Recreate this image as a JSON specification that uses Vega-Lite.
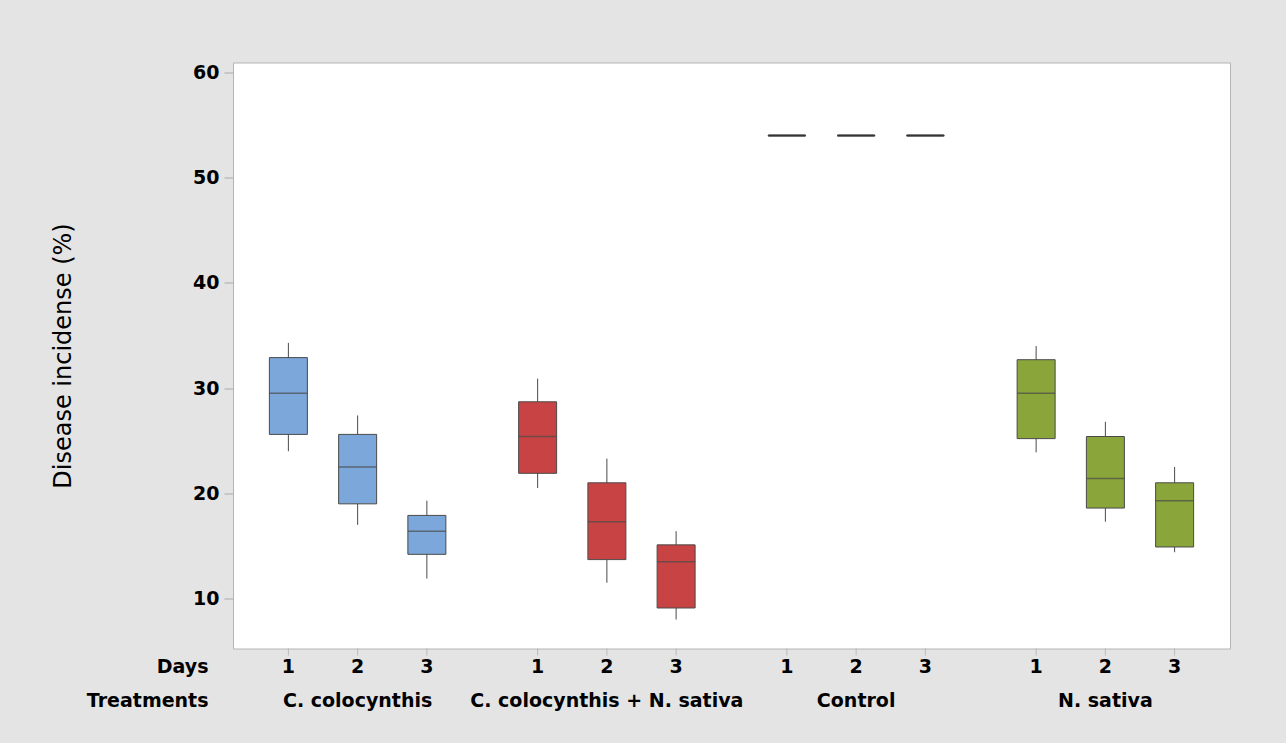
{
  "$schema": "https://vega.github.io/schema/vega-lite/v6.json",
  "background": "#e4e4e4",
  "padding": {"left": 50, "top": 61.5, "right": 56.5, "bottom": 26},
  "bounds": "flush",
  "spacing": 1,
  "config": {"font": "DejaVu Sans", "axis": {"grid": false}},
  "datasets": {
    "boxes": [
      {"treatment": "C. colocynthis", "day": 1, "min": 24.0, "q1": 25.6, "median": 29.5, "q3": 32.9, "max": 34.3},
      {"treatment": "C. colocynthis", "day": 2, "min": 17.0, "q1": 19.0, "median": 22.5, "q3": 25.6, "max": 27.4},
      {"treatment": "C. colocynthis", "day": 3, "min": 11.9, "q1": 14.2, "median": 16.4, "q3": 17.9, "max": 19.3},
      {"treatment": "C. colocynthis + N. sativa", "day": 1, "min": 20.5, "q1": 21.9, "median": 25.4, "q3": 28.7, "max": 30.9},
      {"treatment": "C. colocynthis + N. sativa", "day": 2, "min": 11.5, "q1": 13.7, "median": 17.3, "q3": 21.0, "max": 23.3},
      {"treatment": "C. colocynthis + N. sativa", "day": 3, "min": 8.0, "q1": 9.1, "median": 13.5, "q3": 15.1, "max": 16.4},
      {"treatment": "Control", "day": 1, "min": 54.0, "q1": 54.0, "median": 54.0, "q3": 54.0, "max": 54.0},
      {"treatment": "Control", "day": 2, "min": 54.0, "q1": 54.0, "median": 54.0, "q3": 54.0, "max": 54.0},
      {"treatment": "Control", "day": 3, "min": 54.0, "q1": 54.0, "median": 54.0, "q3": 54.0, "max": 54.0},
      {"treatment": "N. sativa", "day": 1, "min": 23.9, "q1": 25.2, "median": 29.5, "q3": 32.7, "max": 34.0},
      {"treatment": "N. sativa", "day": 2, "min": 17.3, "q1": 18.6, "median": 21.4, "q3": 25.4, "max": 26.8},
      {"treatment": "N. sativa", "day": 3, "min": 14.4, "q1": 14.9, "median": 19.3, "q3": 21.0, "max": 22.5}
    ]
  },
  "vconcat": [
    {
      "width": 997,
      "height": 586,
      "view": {"fill": "white", "stroke": "#b4b4b4"},
      "data": {"name": "boxes"},
      "encoding": {
        "x": {"field": "treatment", "type": "nominal", "scale": {"domain": ["C. colocynthis", "C. colocynthis + N. sativa", "Control", "N. sativa"], "paddingInner": 0, "paddingOuter": 0}, "axis": null},
        "xOffset": {"field": "day", "type": "nominal", "scale": {"domain": [1, 2, 3], "paddingInner": 0, "paddingOuter": 0.3}}
      },
      "layer": [
        {
          "mark": {"type": "rule", "color": "#4a4a4a", "strokeWidth": 1},
          "encoding": {
            "y": {"field": "min", "type": "quantitative", "scale": {"domain": [5.25, 60.95], "nice": false, "zero": false},
              "axis": {"title": "Disease incidense (%)", "values": [10, 20, 30, 40, 50, 60], "tickSize": 9, "tickColor": "#aaaaaa", "domainColor": "#b4b4b4", "labelFontSize": 19, "labelFontWeight": "bold", "labelColor": "#000000", "labelPadding": 5, "titleFontSize": 24, "titleFontWeight": "normal", "titleColor": "#000000", "titleX": -170, "titleBaseline": "middle"}},
            "y2": {"field": "max"}
          }
        },
        {
          "mark": {"type": "bar", "size": 38, "stroke": "#4a4a4a", "strokeWidth": 1},
          "encoding": {
            "y": {"field": "q1", "type": "quantitative", "scale": {"domain": [5.25, 60.95], "nice": false, "zero": false}, "title": "Disease incidense (%)"},
            "y2": {"field": "q3"},
            "color": {"field": "treatment", "type": "nominal", "scale": {"domain": ["C. colocynthis", "C. colocynthis + N. sativa", "Control", "N. sativa"], "range": ["#7ba7da", "#c84444", "#333333", "#8aa63a"]}, "legend": null}
          }
        },
        {
          "mark": {"type": "tick", "size": 38, "thickness": 1.5, "color": "#4a4a4a", "orient": "horizontal"},
          "encoding": {
            "y": {"field": "median", "type": "quantitative", "scale": {"domain": [5.25, 60.95], "nice": false, "zero": false}, "title": "Disease incidense (%)"}
          }
        },
        {
          "transform": [{"filter": "datum.treatment === 'Control'"}],
          "mark": {"type": "tick", "size": 37, "thickness": 2.5, "color": "#2b2b2b", "orient": "horizontal"},
          "encoding": {
            "y": {"field": "median", "type": "quantitative", "scale": {"domain": [5.25, 60.95], "nice": false, "zero": false}, "title": "Disease incidense (%)"}
          }
        }
      ]
    },
    {
      "width": 997,
      "height": 68,
      "view": {"stroke": null, "fill": null},
      "data": {"name": "boxes"},
      "encoding": {
        "x": {"field": "treatment", "type": "nominal", "scale": {"domain": ["C. colocynthis", "C. colocynthis + N. sativa", "Control", "N. sativa"], "paddingInner": 0, "paddingOuter": 0}, "axis": null}
      },
      "layer": [
        {
          "mark": {"type": "tick", "orient": "vertical", "size": 7, "thickness": 1, "color": "#aaaaaa", "yOffset": -14.5},
          "encoding": {
            "xOffset": {"field": "day", "type": "nominal", "scale": {"domain": [1, 2, 3], "paddingInner": 0, "paddingOuter": 0.3}},
            "y": {"datum": "Days", "type": "nominal", "scale": {"domain": ["Days", "Treatments"], "paddingInner": 0, "paddingOuter": 0},
              "axis": {"title": null, "domain": false, "ticks": false, "labelPadding": 25, "labelFontSize": 19, "labelFontWeight": "bold", "labelColor": "#000000"}}
          }
        },
        {
          "mark": {"type": "text", "fontSize": 19, "fontWeight": "bold", "color": "#000000"},
          "encoding": {
            "xOffset": {"field": "day", "type": "nominal", "scale": {"domain": [1, 2, 3], "paddingInner": 0, "paddingOuter": 0.3}},
            "y": {"datum": "Days", "type": "nominal"},
            "text": {"field": "day", "type": "nominal"}
          }
        },
        {
          "transform": [{"aggregate": [{"op": "count", "as": "n"}], "groupby": ["treatment"]}],
          "mark": {"type": "text", "fontSize": 19, "fontWeight": "bold", "color": "#000000"},
          "encoding": {
            "y": {"datum": "Treatments", "type": "nominal"},
            "text": {"field": "treatment", "type": "nominal"}
          }
        }
      ]
    }
  ]
}
